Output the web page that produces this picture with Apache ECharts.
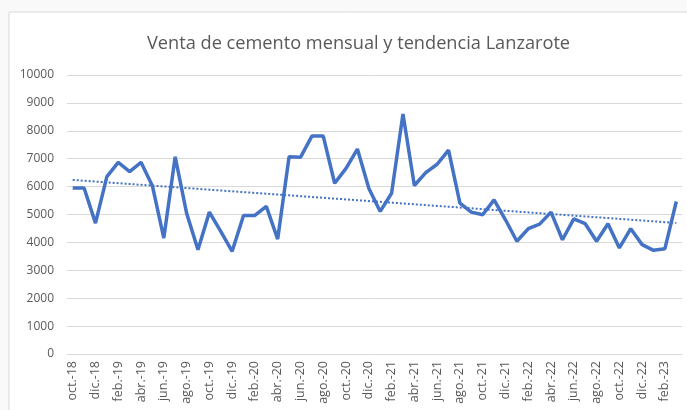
<!DOCTYPE html>
<html>
<head>
<meta charset="utf-8">
<script src="https://cdn.jsdelivr.net/npm/echarts@6/dist/echarts.min.js"></script>
<style>
  html, body { margin: 0; padding: 0; background: #f9f9f9; }
  #chart { width: 687px; height: 410px; }
</style>
</head>
<body>
<div id="chart"></div>
<script>
// meses oct.-18 .. mar.-23
const months = ['oct.','nov.','dic.','ene.','feb.','mar.','abr.','may.','jun.','jul.','ago.','sep.'];
const categories = [];
(function() {
   let m = 0, y = 18;
   for (let i = 0; i < 54; i++) {
      categories.push(months[m] + '-' + y);
      m++;
      if (m === 3) y++;
      if (m === 12) m = 0;
   }
})();

const ventas = [
   5950, 5950, 4690, 6360, 6870, 6540, 6870, 6025, 4155, 7070,
   5050, 3740, 5085, 4395, 3680, 4965, 4965, 5290, 4120, 7070,
   7050, 7810, 7810, 6120, 6655, 7345, 5940, 5110, 5760, 8600,
   6040, 6500, 6800, 7310, 5405, 5085, 4990, 5525, 4810, 4040,
   4490, 4655, 5085, 4095, 4845, 4670, 4040, 4670, 3800, 4490,
   3920, 3715, 3775, 5465
];

// tendencia lineal (minimos cuadrados)
function linearTrend(values) {
   let n = values.length, sx = 0, sy = 0, sxy = 0, sxx = 0;
   values.forEach(function(v, i) {
      sx += i; sy += v; sxy += i * v; sxx += i * i;
   });
   let b = (n * sxy - sx * sy) / (n * sxx - sx * sx);
   let a = (sy - b * sx) / n;
   return values.map(function(v, i) { return Math.round(a + b * i); });
}
const tendencia = linearTrend(ventas);

let myChart = echarts.init(document.getElementById('chart'));
myChart.setOption({
   backgroundColor: '#f9f9f9',
   animation: false,
   graphic: [{
      type: 'rect',
      shape: { x: 9, y: 12, width: 700, height: 420 },
      style: { fill: '#ffffff', stroke: '#d9d9d9', lineWidth: 1 },
      z: -10
   }],
   title: {
      text: 'Venta de cemento mensual y tendencia Lanzarote',
      left: 142,
      top: 30,
      textStyle: { fontFamily: 'Open Sans', fontSize: 18.2, fontWeight: 'normal', color: '#595959' }
   },
   grid: { left: 67, right: 5, top: 75, bottom: 56 },
   xAxis: {
      type: 'category',
      data: categories,
      boundaryGap: true,
      axisLine: { lineStyle: { color: '#d9d9d9' } },
      axisTick: { interval: 1, length: 5, lineStyle: { color: '#d9d9d9' } },
      axisLabel: {
         interval: 1,
         rotate: 90,
         margin: 7,
         color: '#595959',
         fontFamily: 'Open Sans',
         fontSize: 12.5
      }
   },
   yAxis: {
      type: 'value',
      min: 0,
      max: 10000,
      interval: 1000,
      axisLine: { show: false },
      axisTick: { show: false },
      axisLabel: {
         color: '#595959', fontFamily: 'Open Sans', fontSize: 12, margin: 13,
         formatter: function(v) { return String(v); }
      },
      splitLine: { lineStyle: { color: '#d9d9d9' } }
   },
   series: [
      {
         type: 'line',
         data: ventas,
         symbol: 'none',
         lineStyle: { color: '#4472c4', width: 3.5 }
      },
      {
         type: 'line',
         data: tendencia,
         symbol: 'none',
         lineStyle: { color: '#4472c4', width: 2, type: [2, 2] }
      }
   ]
});
</script>
</body>
</html>
